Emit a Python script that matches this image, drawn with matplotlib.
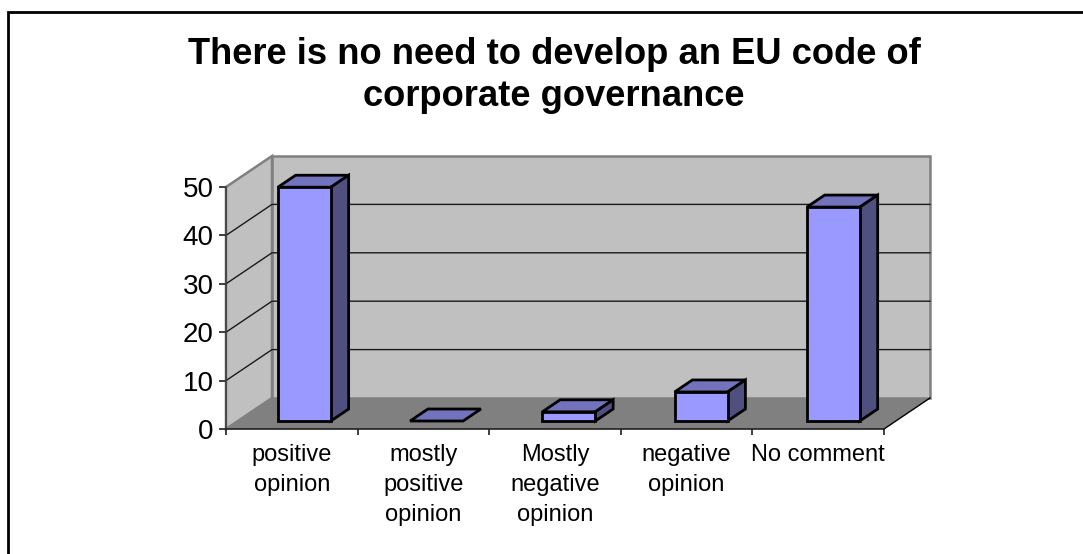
import matplotlib
matplotlib.use('Agg')
import matplotlib.pyplot as plt
from matplotlib.lines import Line2D
from matplotlib.patches import Polygon

title = "There is no need to develop an EU code of\ncorporate governance"
categories = ["positive\nopinion", "mostly\npositive\nopinion", "Mostly\nnegative\nopinion",
              "negative\nopinion", "No comment"]
values = [48.3, 0, 1.9, 6.0, 44.2]
y_ticks = [0, 10, 20, 30, 40, 50]

W, H = 1083, 554
plt.rcParams['font.family'] = ['Liberation Sans', 'DejaVu Sans']

fig = plt.figure(figsize=(W / 100, H / 100), dpi=100, facecolor='white')

# outer frame, only top and left end up inside the image
fig.add_artist(Line2D([7.5 / W, 7.5 / W, 1 + 5 / W], [-0.01, 1 - 11.5 / H, 1 - 11.5 / H],
                      transform=fig.transFigure, color='black', lw=2.0,
                      solid_joinstyle='miter'))

# front plane of the box, everything else gets projected backwards from it
ax = fig.add_axes([226 / W, (H - 429) / H, 658 / W, 242 / H])
ax.set_xlim(0, 5)
ax.set_ylim(0, 50)
ax.patch.set_visible(False)

depth_x = 46 / 131.6   # in categories
depth_y = 31 / 4.84    # in value units


def proj(x, y, d=0.0):
    return (x + depth_x * d, y + depth_y * d)


def face(points, color, ec='none', lw=0.0, z=1):
    ax.add_patch(Polygon([proj(*p) for p in points], closed=True, fc=color, ec=ec, lw=lw,
                         joinstyle='miter', clip_on=False, zorder=z))


# walls and floor
wall_grey = '#c0c0c0'
frame_grey = '#808080'
face([(0, 0, 1), (5, 0, 1), (5, 50, 1), (0, 50, 1)], wall_grey, frame_grey, 1.8)
face([(0, 0, 0), (0, 0, 1), (0, 50, 1), (0, 50, 0)], wall_grey, frame_grey, 1.8, z=1.1)
face([(0, 0, 0), (5, 0, 0), (5, 0, 1), (0, 0, 1)], frame_grey, z=1.2)

# gridlines run along the side wall and the back wall
for t in y_ticks[1:-1]:
    xs, ys = zip(proj(0, t, 0), proj(0, t, 1), proj(5, t, 1))
    ax.plot(xs, ys, color='#1a1a1a', lw=1.0, clip_on=False, zorder=1.3)

ax.plot(*zip(proj(5, 0, 0), proj(5, 0, 1)), color='black', lw=1.0, clip_on=False, zorder=1.3)

# 3d bars
bar_width = 53 / 131.6
bar_step = 1.005
d0, d1 = 8 / 31, 20 / 31
for i, v in enumerate(values):
    x0 = i * bar_step + 0.5 - bar_width / 2 + 0.005
    x1 = x0 + bar_width
    edge = dict(ec='black', lw=2.0, z=3)
    face([(x0, v, d0), (x1, v, d0), (x1, v, d1), (x0, v, d1)], '#7373bd', **edge)
    if v > 0:
        face([(x1, 0, d0), (x1, 0, d1), (x1, v, d1), (x1, v, d0)], '#4f4f80', **edge)
        face([(x0, 0, d0), (x1, 0, d0), (x1, v, d0), (x0, v, d0)], '#9999ff', **edge)

# axes, ticks and labels
for side in ['top', 'right']:
    ax.spines[side].set_visible(False)
ax.spines['left'].set_color('#404040')
ax.spines['left'].set_linewidth(1.2)
ax.spines['bottom'].set_color('#202020')
ax.spines['bottom'].set_linewidth(1.2)
ax.spines['left'].set_zorder(2)
ax.spines['bottom'].set_zorder(2)

ax.set_yticks(y_ticks)
ax.tick_params(axis='y', length=5, width=1.2, labelsize=20, pad=4, color='#202020')
ax.set_xticks(range(6))
ax.set_xticklabels([])
ax.tick_params(axis='x', which='major', length=4.3, width=1.2, color='#202020')
ax.set_xticks([i + 0.5 for i in range(5)], minor=True)
ax.set_xticklabels(categories, minor=True, fontsize=17, linespacing=1.47)
ax.tick_params(axis='x', which='minor', length=0, pad=11)

fig.text(554 / W, 1 - 75.5 / H, title, ha='center', va='center', fontsize=26.2,
         fontweight='bold', linespacing=1.25)

fig.savefig('out.png', dpi=100)
